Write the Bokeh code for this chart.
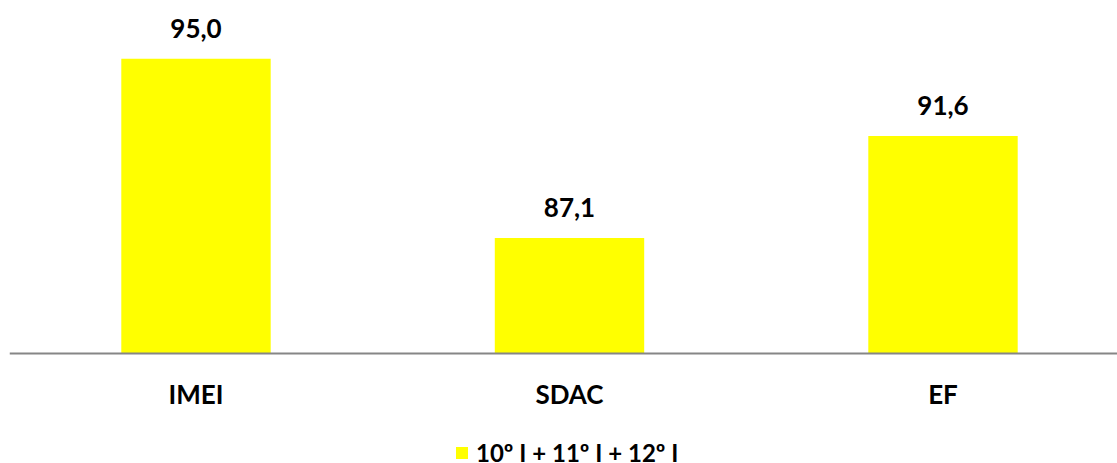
from bokeh.plotting import figure
from bokeh.models import (ColumnDataSource, Range1d, LabelSet, Span,
                          Legend, LegendItem)
from bokeh.core.properties import value
from bokeh.embed import file_html
from bokeh.resources import INLINE

# data
categories = ["IMEI", "SDAC", "EF"]
values = [95.0, 87.1, 91.6]
series_name = "10º I + 11º I + 12º I"
baseline = 82

FONT = "Lato"
xs = list(range(len(categories)))
labels = [f"{v:.1f}".replace(".", ",") for v in values]
src = ColumnDataSource(dict(x=xs, top=values, label=labels,
                            cat=categories, base=[baseline] * len(xs)))

p = figure(frame_width=1108, frame_height=450, output_backend="svg",
           toolbar_location=None, sizing_mode="fixed",
           x_range=Range1d(-0.4993, 2.4672), y_range=Range1d(77.147, 97),
           x_axis_location=None, y_axis_location=None,
           min_border_left=9, min_border_right=0, min_border_top=13,
           min_border_bottom=0)
p.outline_line_color = None
p.xgrid.visible = False
p.ygrid.visible = False

bars = p.vbar(x="x", top="top", bottom=baseline, width=0.4, source=src,
              fill_color="#FFFF00", line_color=None)

# category axis line and labels
p.add_layout(Span(location=baseline, dimension="width",
                  line_color="#868686", line_width=2))
cat_lbl = LabelSet(x="x", y="base", text="cat", source=src, y_offset=-51,
                   text_align="center", text_baseline="alphabetic",
                   text_font=value(FONT), text_font_style="bold",
                   text_font_size="26px", text_color="#000000")
p.add_layout(cat_lbl)

lbl = LabelSet(x="x", y="top", text="label", source=src, y_offset=21,
               text_align="center", text_baseline="alphabetic",
               text_font=value(FONT), text_font_style="bold",
               text_font_size="26px", text_color="#000000")
p.add_layout(lbl)

legend = Legend(items=[LegendItem(label=series_name, renderers=[bars])],
                location=(451, -4), orientation="horizontal",
                glyph_width=15, glyph_height=15, label_standoff=7,
                label_height=15, label_text_baseline="middle",
                label_text_font=FONT, label_text_font_style="bold",
                label_text_font_size="24px", label_text_color="#000000",
                background_fill_alpha=0, border_line_color=None,
                padding=0, margin=0)
p.add_layout(legend, "center")

open("out.html", "w").write(file_html(p, INLINE))
